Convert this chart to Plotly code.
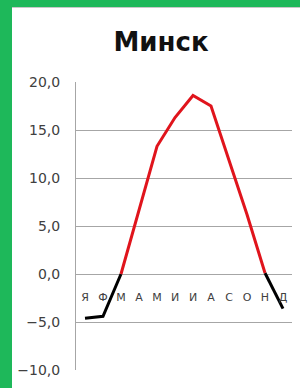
import plotly.graph_objects as go

months = ["Я", "Ф", "М", "А", "М", "И", "И", "А", "С", "О", "Н", "Д"]
temps = [-4.6, -4.4, 0.0, 6.6, 13.3, 16.3, 18.6, 17.5, 11.8, 6.2, 0.1, -3.6]
y_ticks = [-10, -5, 0, 5, 10, 15, 20]

x = list(range(len(months)))
warm = [t if (t >= 0 and (i > 0 and i < len(temps) - 1)) else None for i, t in enumerate(temps)]
cold = []
for i, t in enumerate(temps):
    if t < 0:
        cold.append(t)
    elif (i > 0 and temps[i - 1] < 0) or (i < len(temps) - 1 and temps[i + 1] < 0):
        cold.append(t)
    else:
        cold.append(None)

W, H = 300, 388
L, R, T, B = 76, 8, 82, 18
pw, ph = W - L - R, H - T - B

def px(v):
    return (v - L) / pw

def py(v):
    return (H - B - v) / ph

fig = go.Figure()
fig.add_trace(go.Scatter(x=x, y=cold, mode="lines", line=dict(color="#000000", width=3),
                         connectgaps=False, hoverinfo="skip", showlegend=False))
fig.add_trace(go.Scatter(x=x, y=warm, mode="lines", line=dict(color="#e0141c", width=3),
                         connectgaps=False, hoverinfo="skip", showlegend=False))

font_family = "DejaVu Sans, sans-serif"

fig.update_layout(
    width=W, height=H,
    margin=dict(l=L, r=R, t=T, b=B, pad=0),
    paper_bgcolor="white", plot_bgcolor="white",
    separators=", ",
    title=dict(text="Минск", x=161 / W, xref="container", xanchor="center",
               y=1 - 42 / H, yref="container", yanchor="middle",
               font=dict(family=font_family, size=26, color="#111111", weight="bold")),
    xaxis=dict(range=[-0.5, 11.5], tickmode="array", tickvals=x, ticktext=months,
               anchor="free", position=1 / 3, showgrid=False, zeroline=False,
               showline=False, ticks="", ticklabelstandoff=15,
               tickfont=dict(family=font_family, size=11, color="#404040")),
    yaxis=dict(range=[-10, 20], tickmode="array", tickvals=y_ticks, tickformat=".1f",
               showgrid=True, gridcolor="#a6a6a6", gridwidth=1, zeroline=False,
               showline=True, linecolor="#a6a6a6", linewidth=1, ticks="",
               ticklabelstandoff=12,
               tickfont=dict(family=font_family, size=14, color="#404040")),
    shapes=[
        dict(type="rect", xref="paper", yref="paper", x0=px(0), x1=px(12), y0=py(H), y1=py(0),
             fillcolor="#1eb85a", line=dict(width=0), layer="above"),
        dict(type="rect", xref="paper", yref="paper", x0=px(0), x1=px(W), y0=py(7), y1=py(0),
             fillcolor="#1eb85a", line=dict(width=0), layer="above"),
        dict(type="line", xref="paper", yref="paper", x0=px(12), x1=px(W), y0=py(7.5), y1=py(7.5),
             line=dict(color="#c8c8c8", width=1), layer="above"),
    ],
)

fig.write_html("out.html", config={"displayModeBar": False, "staticPlot": True},
               post_script="document.body.style.margin='0';document.body.style.overflow='hidden';")
